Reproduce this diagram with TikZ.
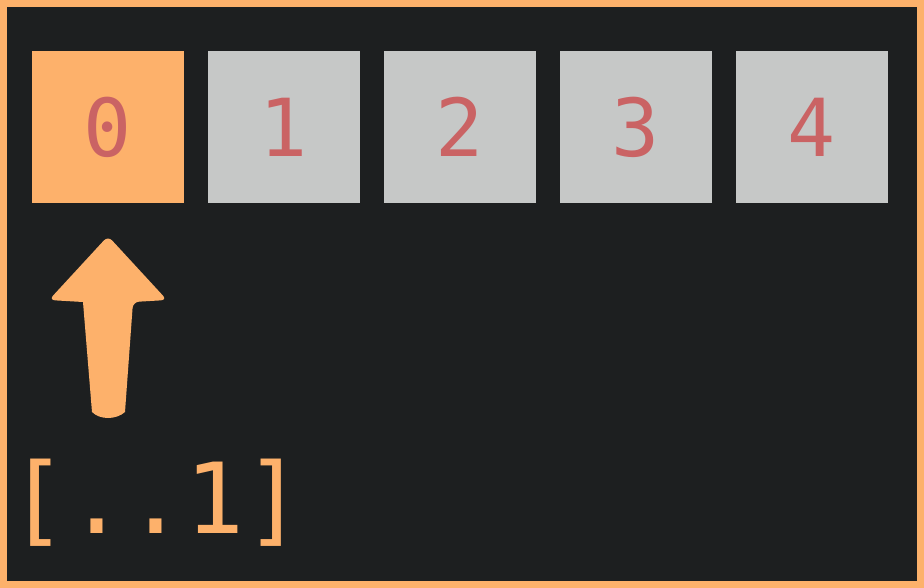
\documentclass[tikz,border=0pt]{standalone}
\usepackage{fontspec}
\usepackage{tikz}
\newfontfamily\codefont{DejaVu Sans Mono}
\definecolor{peach}{HTML}{FDB16B}
\definecolor{slate}{HTML}{1D1F20}
\definecolor{cellgray}{HTML}{C6C8C7}
\definecolor{digitred}{HTML}{CA6364}

\begin{document}
\begin{tikzpicture} [x = 1pt, y = -1pt,
  cell/.style = {fill = cellgray, minimum size = 152pt, inner sep = 0pt, text = digitred, font = \codefont\fontsize{80}{80}\selectfont},
  slicetext/.style = {anchor = base west, inner sep = 0pt, text = peach, font = \codefont\fontsize{98}{98}\selectfont}]
\useasboundingbox (0,0) rectangle (924,588);
\fill [peach] (0,0) rectangle (924,588);
\fill [slate] (7,7) rectangle (917,581);
\node[cell, fill = peach](c0) at (108,127){0};
\node[cell](c1) at (284,127){1};
\node[cell](c2) at (460,127){2};
\node[cell](c3) at (636,127){3};
\node[cell](c4) at (812,127){4};
\node[slicetext](s1) at (8,533){[..1]};
\fill [peach, rounded corners = 6pt] (108,236) -- (167,300) -- (133,302) [sharp corners] -- (125,412) .. controls (116,420) and (100,420) .. (92,412) -- (83,302) [rounded corners = 6pt] -- (49,300) -- cycle;
\end{tikzpicture}
\end{document}
